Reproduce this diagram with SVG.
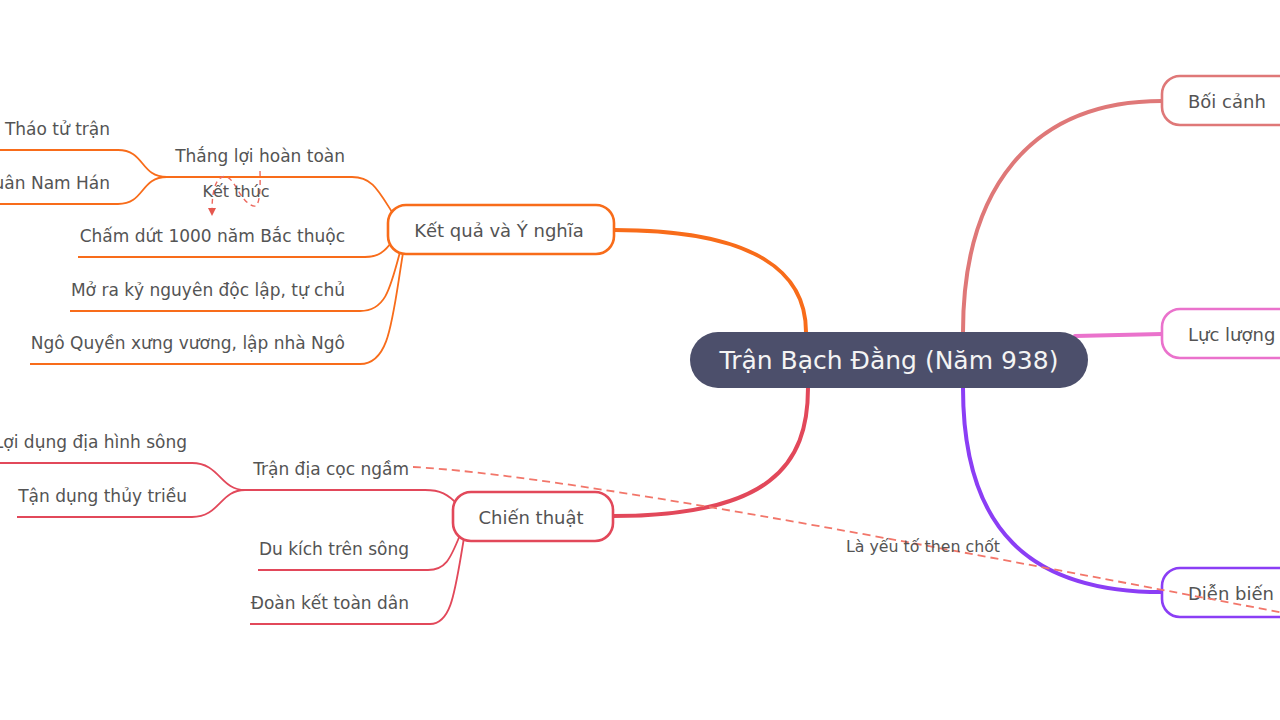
<svg xmlns="http://www.w3.org/2000/svg" width="1280" height="720" viewBox="0 0 1280 720">
<defs>
<style>
text{font-family:"DejaVu Sans","Noto Sans",sans-serif;fill:#545454;}
.t17{font-size:17px;}
.t18{font-size:18px;}
.node{fill:#ffffff;stroke-width:2.6;}
.main{fill:none;stroke-width:4;stroke-linecap:round;}
.sub{fill:none;stroke-width:1.8;}
.or{stroke:#f86c1a;}
.rd{stroke:#e2485a;}
.dash{fill:none;stroke:#f2766a;stroke-width:1.8;stroke-dasharray:8 5;}
.dash2{fill:none;stroke:#ec6a60;stroke-width:1.4;stroke-dasharray:5 4;}
</style>
<marker id="arr" viewBox="0 0 10 10" refX="5" refY="5" markerWidth="8" markerHeight="8" markerUnits="userSpaceOnUse" orient="auto">
<path d="M0,0 L10,5 L0,10 Z" fill="#e5574e"/>
</marker>
</defs>
<rect width="1280" height="720" fill="#ffffff"/>

<g id="connectors">
<path class="main" stroke="#f86c1a" d="M614,230 C 760,230 806,275 806,332"/>
<path class="main" stroke="#e2485a" d="M613,516 C 770,516 808,465 808,388"/>
<path class="main" stroke="#df7878" d="M963,332 C 963,190 1030,101 1162,101"/>
<path class="main" stroke="#ea72cc" d="M1075,336 L 1162,334"/>
<path class="main" stroke="#8b3ef5" d="M963,388 C 963,530 1030,592 1162,592"/>

<path class="sub or" d="M392,212 C 378,190 372,177 352,177 L 165,177"/>
<path class="sub or" d="M167,177 C 140,177 145,150 118,150 L -5,150"/>
<path class="sub or" d="M167,177 C 140,177 145,204 118,204 L -5,204"/>
<path class="sub or" d="M393,240 C 385,252 378,257 365,257 L 78,257"/>
<path class="sub or" d="M400,252 C 390,290 385,311 360,311 L 70,311"/>
<path class="sub or" d="M403,253 C 392,320 390,364 360,364 L 30,364"/>

<path class="sub rd" d="M458,505 C 448,494 440,490 425,490 L 245,490"/>
<path class="sub rd" d="M245,490 C 220,490 220,463 192,463 L -5,463"/>
<path class="sub rd" d="M245,490 C 220,490 220,517 192,517 L 17,517"/>
<path class="sub rd" d="M460,535 C 450,560 445,570 428,570 L 258,570"/>
<path class="sub rd" d="M464,538 C 455,590 452,624 430,624 L 250,624"/>
</g>

<g id="center">
<rect x="690" y="332" width="398" height="56" rx="28" fill="#4c4f6b"/>
<text x="889" y="369" text-anchor="middle" style="font-size:25px;fill:#f4f4f4">Trận Bạch Đằng (Năm 938)</text>
</g>

<g id="ket-qua">
<rect class="node" x="388" y="205" width="226" height="49" rx="18" stroke="#f86c1a"/>
<text class="t18" x="499" y="237" text-anchor="middle">Kết quả và Ý nghĩa</text>
</g>
<g id="chien-thuat">
<rect class="node" x="453" y="492" width="160" height="49" rx="18" stroke="#e2485a"/>
<text class="t18" x="531" y="524" text-anchor="middle">Chiến thuật</text>
</g>
<g id="boi-canh">
<rect class="node" x="1162" y="76" width="160" height="49" rx="18" stroke="#df7878"/>
<text class="t18" x="1188" y="108">Bối cảnh</text>
</g>
<g id="luc-luong">
<rect class="node" x="1162" y="309" width="160" height="49" rx="18" stroke="#ea72cc"/>
<text class="t18" x="1188" y="341">Lực lượng</text>
</g>
<g id="dien-bien">
<rect class="node" x="1162" y="568" width="160" height="49" rx="18" stroke="#8b3ef5"/>
<text class="t18" x="1188" y="600">Diễn biến</text>
</g>

<g id="thang-loi"><text class="t17" x="345" y="162" text-anchor="end">Thắng lợi hoàn toàn</text></g>
<g id="thao-tu-tran"><text class="t17" x="110" y="135" text-anchor="end">Tháo tử trận</text></g>
<g id="nam-han"><text class="t17" x="110" y="189" text-anchor="end">uân Nam Hán</text></g>
<g id="cham-dut"><text class="t17" x="345" y="242" text-anchor="end">Chấm dứt 1000 năm Bắc thuộc</text></g>
<g id="mo-ra"><text class="t17" x="345" y="296" text-anchor="end">Mở ra kỷ nguyên độc lập, tự chủ</text></g>
<g id="ngo-quyen"><text class="t17" x="345" y="349" text-anchor="end">Ngô Quyền xưng vương, lập nhà Ngô</text></g>

<g id="tran-dia"><text class="t17" x="409" y="475" text-anchor="end">Trận địa cọc ngầm</text></g>
<g id="loi-dung"><text class="t17" x="187" y="448" text-anchor="end">Lợi dụng địa hình sông</text></g>
<g id="tan-dung"><text class="t17" x="187" y="502" text-anchor="end">Tận dụng thủy triều</text></g>
<g id="du-kich"><text class="t17" x="409" y="555" text-anchor="end">Du kích trên sông</text></g>
<g id="doan-ket"><text class="t17" x="409" y="609" text-anchor="end">Đoàn kết toàn dân</text></g>

<g id="relations">
<path class="dash" d="M413,467 C 560,475 900,540 1300,616"/>
<path class="dash2" marker-end="url(#arr)" d="M260,171 C 261,210 256,209 248,203 C 238,196 232,172 222,177 C 214,181 212,195 212,212"/>
<text x="236" y="197" text-anchor="middle" style="font-size:16px">Kết thúc</text>
<text x="923" y="552" text-anchor="middle" style="font-size:15.8px">Là yếu tố then chốt</text>
</g>
</svg>
